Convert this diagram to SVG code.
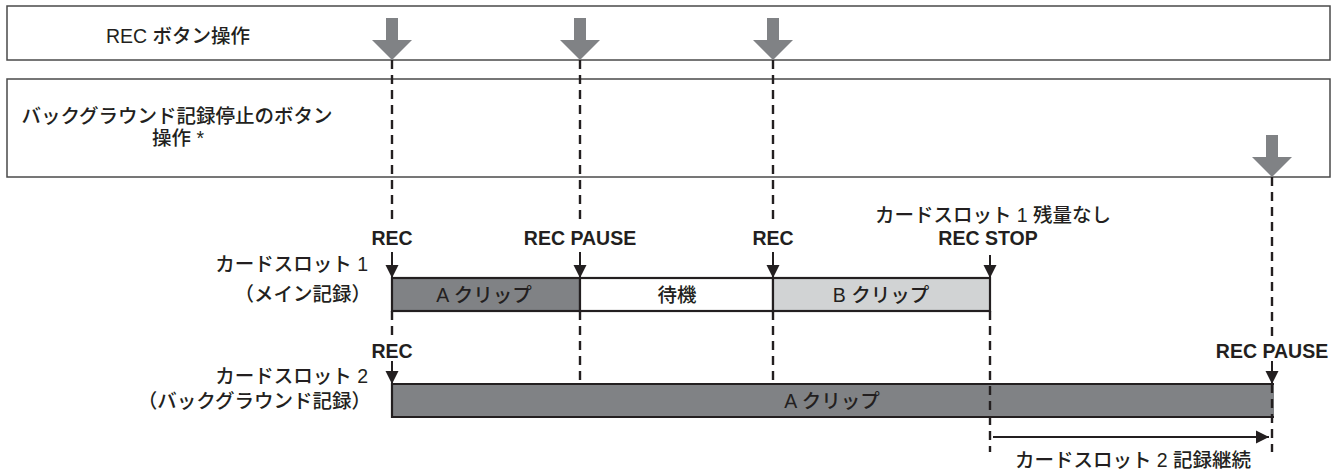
<svg xmlns="http://www.w3.org/2000/svg" width="1337" height="472" viewBox="0 0 1337 472">
<style>
text{font-family:"Liberation Sans","Noto Sans CJK JP",sans-serif;fill:#231f20;font-size:19.5px;font-weight:500}
.b{font-weight:bold}
.m{text-anchor:middle}
.e{text-anchor:end}
.band{fill:none;stroke:#4a4a4a;stroke-width:1.5}
.big{fill:#808285}
.dash{fill:none;stroke:#231f20;stroke-width:2.4;stroke-dasharray:9 6}
.sol{fill:none;stroke:#231f20;stroke-width:2;marker-end:url(#ah)}
.seg{stroke:#231f20;stroke-width:2.2}
</style>
<defs>
<marker id="ah" markerUnits="userSpaceOnUse" markerWidth="14" markerHeight="14" viewBox="0 0 14 14" refX="13" refY="7" orient="auto">
<path d="M0,0.5 L13,7 L0,13.5 z" fill="#231f20"/>
</marker>
<path id="bigArrow" d="M-6,0 H6 V22 H20 L0,42 L-20,22 H-6 Z"/>
</defs>
<rect width="1337" height="472" fill="#fff"/>

<g id="band-rec">
<rect class="band" x="7" y="6" width="1323" height="54"/>
<text x="178" y="43" class="m">REC ボタン操作</text>
</g>
<g id="band-bg">
<rect class="band" x="7" y="79" width="1323" height="98"/>
<text x="177" y="123" class="m">バックグラウンド記録停止のボタン</text>
<text x="178" y="145" class="m">操作 *</text>
</g>

<g id="press-arrows" class="big">
<use href="#bigArrow" x="392" y="18"/>
<use href="#bigArrow" x="580" y="18"/>
<use href="#bigArrow" x="773" y="18"/>
<use href="#bigArrow" x="1272" y="135"/>
</g>

<g id="slot1">
<text x="368" y="271" class="e">カードスロット 1</text>
<text x="371" y="301" class="e">（メイン記録）</text>
<rect class="seg" x="392" y="278" width="188" height="33" fill="#808285"/>
<rect class="seg" x="580" y="278" width="193" height="33" fill="#fff"/>
<rect class="seg" x="773" y="278" width="217" height="33" fill="#d1d3d4"/>
<text x="484" y="302" class="m">A クリップ</text>
<text x="677" y="302" class="m">待機</text>
<text x="881" y="302" class="m">B クリップ</text>
</g>

<g id="slot2">
<text x="368" y="383" class="e">カードスロット 2</text>
<text x="371" y="408" class="e">（バックグラウンド記録）</text>
<rect x="392" y="384" width="882" height="33" fill="#808285"/>
<path class="seg" fill="none" d="M1274,384 H392 V417 H1274"/>
<text x="832" y="408" class="m">A クリップ</text>
</g>

<g id="labels">
<text x="392" y="245" class="b m">REC</text>
<text x="580" y="245" class="b m">REC PAUSE</text>
<text x="773" y="245" class="b m">REC</text>
<text x="993" y="222" class="m">カードスロット 1 残量なし</text>
<text x="988" y="245" class="b m">REC STOP</text>
<text x="392" y="358" class="b m">REC</text>
<text x="1272" y="358" class="b m">REC PAUSE</text>
<text x="1133" y="467" class="m">カードスロット 2 記録継続</text>
</g>

<g id="connectors">
<path class="dash" d="M392,60 V222 M392,311 V337"/>
<path class="dash" d="M580,60 V222 M580,311 V384"/>
<path class="dash" d="M773,60 V222 M773,311 V384"/>
<path class="dash" d="M990,311 V452"/>
<path class="dash" d="M1272,177 V340 M1272,384 V452"/>
<path class="sol" d="M392,252 V278"/>
<path class="sol" d="M580,252 V278"/>
<path class="sol" d="M773,252 V278"/>
<path class="sol" d="M990,255 V278"/>
<path class="sol" d="M392,361 V384"/>
<path class="sol" d="M1272,361 V384"/>
<path class="sol" d="M993,437 H1269"/>
</g>
</svg>
